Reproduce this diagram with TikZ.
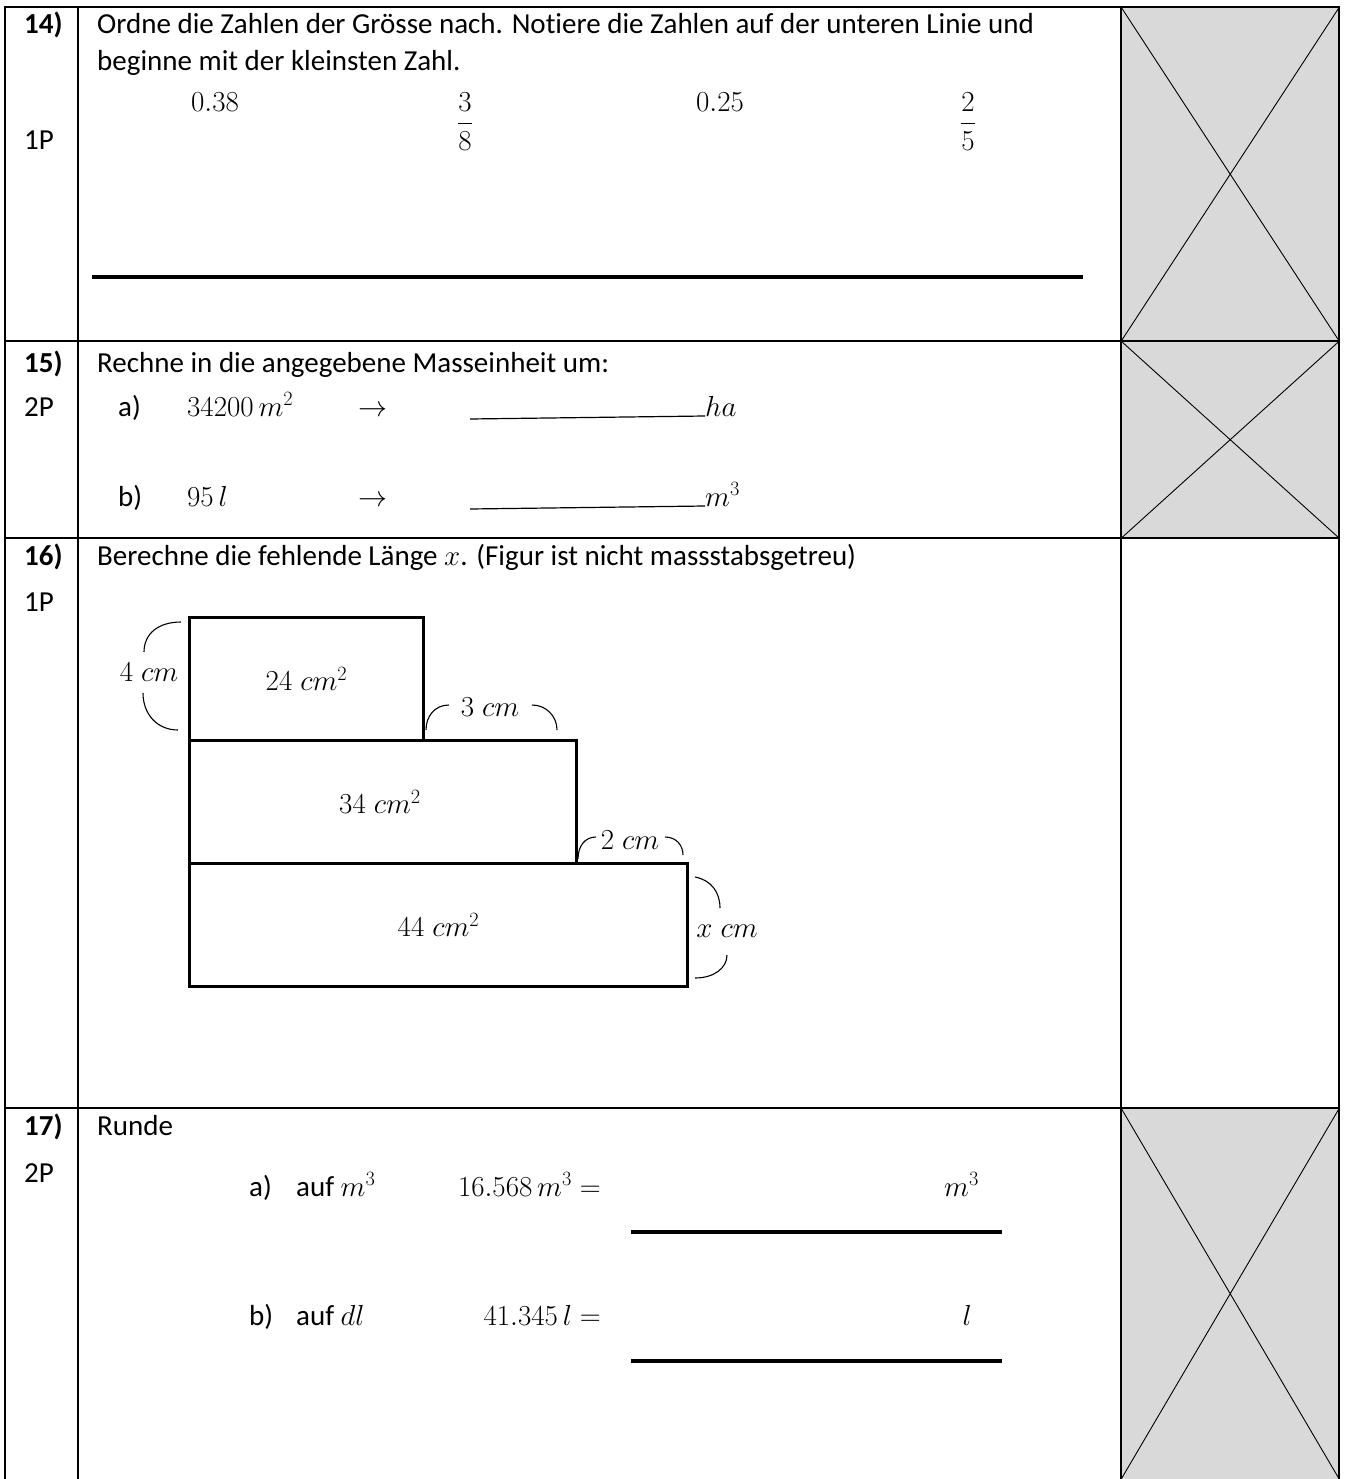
\documentclass[tikz,border=0pt]{standalone}
\usepackage{fix-cm}
\usepackage{amsmath}
\usepackage{fontspec}
\setmainfont[Ligatures=NoCommon]{Carlito}
\usepackage{tikz}
\usetikzlibrary{positioning}
\definecolor{cellgray}{HTML}{D9D9D9}
\tikzset{
	txt/.style={anchor=base west, inner sep=0pt, font=\fontsize{29}{35}\selectfont},
	txte/.style={txt, anchor=base east},
	val/.style={txt, anchor=base},
	frame/.style={line width=2.5pt},
	gcell/.style={fill=cellgray, inner sep=0pt, anchor=north west, minimum width=218pt},
	fig/.style={draw, line width=3pt, inner sep=0pt, anchor=north west, minimum height=123pt},
	brc/.style={line width=1.1pt},
	lbl/.style={inner sep=0pt, font=\fontsize{29}{35}\selectfont}
}
\begin{document}
\begin{tikzpicture}[x=1pt,y=-1pt]
	\useasboundingbox (0,0) rectangle (1346,1479);
	\fill[white] (0,0) rectangle (1346,1479);
	\node[gcell, minimum height=334pt] (g14) at (1121,7) {};
	\node[gcell, minimum height=197pt] (g15) at (1121,341) {};
	\node[gcell, minimum height=371pt] (g17) at (1121,1108) {};
	\foreach \g in {g14,g15,g17}
		\draw[line width=0.9pt] (\g.north west) -- (\g.south east) (\g.north east) -- (\g.south west);
	\draw[frame] (5,1479) -- (5,7) -- (1339,7) -- (1339,1479);
	\draw[frame] (78,7) -- (78,1479) (1121,7) -- (1121,1479);
	\foreach \y in {341,538,1108}
		\draw[frame] (5,\y) -- (1339,\y);

	\node[txt] (n14) at (24,34) {\textbf{14)}};
	\node[txt] (q14) at (97,34) {Ordne die Zahlen der Grösse nach. Notiere die Zahlen auf der unteren Linie und};
	\node[txt] (q14b) at (97,71) {beginne mit der kleinsten Zahl.};
	\node[txt] (p14) at (24,150) {1P};
	\node[val] (v1) at (215,112) {$0.38$};
	\node[val] (v2) at (465,131) {$\dfrac{3\rule[-9pt]{0pt}{9pt}}{\rule{0pt}{23pt}8}$};
	\node[val] (v3) at (720,112) {$0.25$};
	\node[val] (v4) at (968,131) {$\dfrac{2\rule[-9pt]{0pt}{9pt}}{\rule{0pt}{23pt}5}$};
	\draw[line width=4.5pt] (92,277) -- (1083,277);

	\node[txt] (n15) at (24,372) {\textbf{15)}};
	\node[txt] (q15) at (97,372) {Rechne in die angegebene Masseinheit um:};
	\node[txt] (p15) at (24,416) {2P};
	\node[txt] (a15) at (118,416) {a)};
	\node[txt] (a15v) at (187,416) {$34200\,m^2$};
	\node[txt] (a15r) at (358,416) {$\rightarrow$};
	\node[txt] (a15u) at (705,416) {$ha$};
	\draw[line width=1.2pt] (470,419) -- (a15u.base west);
	\node[txt] (b15) at (118,506) {b)};
	\node[txt] (b15v) at (187,506) {$95\,l$};
	\node[txt] (b15r) at (358,506) {$\rightarrow$};
	\node[txt] (b15u) at (705,506) {$m^3$};
	\draw[line width=1.2pt] (470,509) -- (b15u.base west);

	\node[txt] (n16) at (24,565) {\textbf{16)}};
	\node[txt] (q16) at (97,565) {Berechne die fehlende Länge $x$. (Figur ist nicht massstabsgetreu)};
	\node[txt] (p16) at (24,611) {1P};
	\node[fig, minimum width=234pt] (r1) at (188,616) {};
	\node[fig, minimum width=387pt] (r2) at (188,739) {};
	\node[fig, minimum width=498pt] (r3) at (188,862) {};
	\node[lbl] (a1) at (r1.center) {$24\;cm^2$};
	\node[lbl] (a2) at ([xshift=-3pt]r2.center) {$34\;cm^2$};
	\node[lbl] (a3) at (r3.center) {$44\;cm^2$};
	\node[lbl] (h1) at (149,672) {$4\;cm$};
	\node[lbl] (w1) at (490,707) {$3\;cm$};
	\node[lbl] (w2) at (630,840) {$2\;cm$};
	\node[lbl] (h3) at (727,931) {$x\;cm$};
	\draw[brc] (181,622) .. controls (158,622) and (144,634) .. (144,652);
	\draw[brc] (143,693) .. controls (143,714) and (157,730) .. (178,730);
	\draw[brc] (426,730) .. controls (426,716) and (435,705) .. (449,705);
	\draw[brc] (532,705) .. controls (546,705) and (557,716) .. (557,730);
	\draw[brc] (578,859) .. controls (578,846) and (585,837) .. (596,837);
	\draw[brc] (665,837) .. controls (676,837) and (683,845) .. (683,855);
	\draw[brc] (695,877) .. controls (711,880) and (720,892) .. (720,908);
	\draw[brc] (727,955) .. controls (727,968) and (714,978) .. (695,978);

	\node[txt] (n17) at (24,1135) {\textbf{17)}};
	\node[txt] (q17) at (97,1135) {Runde};
	\node[txt] (p17) at (24,1182) {2P};
	\node[txt] (a17) at (249,1196) {a)};
	\node[txt] (a17t) at (296,1196) {auf $m^3$};
	\node[txte] (a17v) at (601,1196) {$16.568\,m^3 =$};
	\node[txte] (a17u) at (979,1196) {$m^3$};
	\draw[line width=3.3pt] (631,1232) -- (1002,1232);
	\node[txt] (b17) at (249,1325) {b)};
	\node[txt] (b17t) at (296,1325) {auf $dl$};
	\node[txte] (b17v) at (601,1325) {$41.345\,l =$};
	\node[txte] (b17u) at (972,1325) {$l$};
	\draw[line width=3.3pt] (631,1361) -- (1002,1361);
\end{tikzpicture}
\end{document}
